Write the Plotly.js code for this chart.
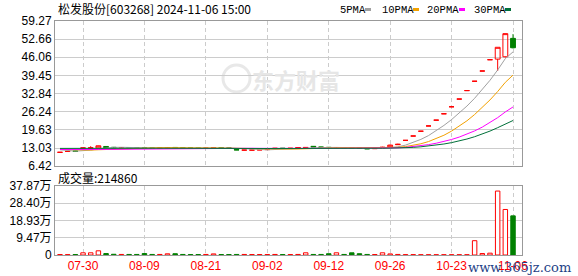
<!DOCTYPE html>
<html><head><meta charset="utf-8">
<script src="https://cdn.plot.ly/plotly-3.0.1.min.js"></script>
<style>html,body{margin:0;padding:0;background:#fff;}#chart{width:578px;height:276px;}</style>
</head><body><div id="chart"></div>
<script>
// ---- data ----
const xTickIdx  = [3, 11, 19, 27, 35, 43, 51, 59];
const xTickText = ['07-30','08-09','08-21','09-02','09-12','09-26','10-23','11-06'];

const priceTicks = [6.42, 13.03, 19.63, 26.24, 32.84, 39.45, 46.06, 52.66, 59.27];
const volTicks = [0, 94700, 189300, 284000, 378700];
const volTickText = ['0', '9.47万', '18.93万', '28.40万', '37.87万'];

const openP = [11.46,11.80,11.92,12.95,13.00,13.05,13.60,13.30,13.15,13.20,
  13.10,13.10,13.00,12.95,13.05,13.25,13.10,13.05,13.00,12.95,
  13.00,13.15,13.05,12.45,12.28,12.28,12.35,12.45,12.85,12.95,
  12.90,13.10,13.15,13.65,13.40,13.30,13.10,13.20,13.15,13.10,
  12.95,12.80,13.10,13.45,14.25,15.83,17.41,19.15,21.07,23.18,
  25.50,28.05,30.86,33.94,37.34,41.07,45.18,45.40,46.25,52.95];
const highP = [11.52,11.86,11.95,13.07,13.70,13.90,13.75,13.35,13.25,13.22,
  13.12,13.45,13.05,13.05,13.35,13.30,13.15,13.08,13.02,13.05,
  13.30,13.18,13.08,12.50,12.32,12.35,12.45,12.60,13.00,12.98,
  13.00,13.25,13.30,13.70,13.45,13.32,13.30,13.22,13.20,13.12,
  13.00,12.90,13.50,14.30,14.60,15.83,17.41,19.15,21.07,23.18,
  25.50,28.05,30.86,33.94,37.34,41.07,45.18,49.70,54.67,54.50];
const lowP = [11.44,11.78,11.85,12.90,12.95,13.00,13.20,13.10,13.10,13.05,
  13.00,12.95,12.90,12.92,13.00,13.05,13.00,12.95,12.90,12.92,
  12.98,13.00,12.95,12.30,12.25,12.25,12.30,12.40,12.80,12.85,
  12.88,13.05,13.10,13.40,13.25,13.05,13.05,13.05,13.00,12.95,
  12.70,12.75,13.05,13.40,14.15,15.83,17.41,19.15,21.07,23.18,
  25.50,28.05,30.86,33.94,37.34,41.07,45.18,41.07,46.00,49.30];
const closeP = [11.48,11.83,11.88,13.07,13.10,13.85,13.25,13.15,13.20,13.10,
  13.05,13.00,12.95,13.00,13.20,13.10,13.05,13.00,12.95,13.00,
  13.15,13.05,13.00,12.35,12.30,12.30,12.40,12.55,12.95,12.90,
  12.95,13.20,13.25,13.45,13.30,13.10,13.20,13.10,13.05,13.00,
  12.75,12.85,13.30,14.10,14.39,15.83,17.41,19.15,21.07,23.18,
  25.50,28.05,30.86,33.94,37.34,41.07,45.18,49.70,54.67,49.53];

const volume = [2500,2000,2500,12000,12000,23000,8000,4000,3000,3000,
  3000,8000,3000,3000,6500,7000,3000,2500,2500,3000,
  6000,2500,2500,3000,3000,2500,2500,2500,3000,2500,
  2500,3000,12000,3000,3000,7000,12000,3000,12000,7000,
  3000,2500,12000,6000,3000,2000,2000,1500,1500,1500,
  1500,1500,1500,1500,78500,8000,10000,351000,249900,214860];

const ma5 = [12.40,12.20,11.90,12.08,12.27,12.75,13.03,13.28,13.31,13.31,
  13.15,13.10,13.06,13.02,13.04,13.05,13.06,13.07,13.06,13.02,
  13.03,13.03,13.03,12.91,12.77,12.60,12.47,12.38,12.50,12.62,
  12.75,12.91,13.05,13.15,13.23,13.26,13.26,13.23,13.15,13.09,
  13.02,12.95,12.99,13.20,13.48,14.09,15.01,16.18,17.57,19.33,
  21.26,23.39,25.73,28.31,31.14,34.25,37.68,41.45,45.59,48.03];
const ma10 = [12.55,12.45,12.30,12.25,12.28,12.40,12.52,12.62,12.72,12.79,
  12.95,13.07,13.17,13.17,13.18,13.10,13.08,13.07,13.04,13.03,
  13.04,13.05,13.05,12.99,12.90,12.82,12.75,12.71,12.71,12.70,
  12.68,12.69,12.72,12.83,12.93,13.01,13.09,13.14,13.15,13.16,
  13.14,13.11,13.11,13.18,13.28,13.56,13.98,14.58,15.39,16.40,
  17.68,19.20,20.95,22.94,25.23,27.76,30.53,33.59,36.95,39.58];
const ma20 = [12.50,12.45,12.40,12.42,12.45,12.50,12.53,12.56,12.60,12.63,
  12.67,12.70,12.74,12.77,12.80,12.83,12.86,12.88,12.87,12.91,
  12.99,13.06,13.11,13.08,13.04,12.96,12.92,12.89,12.87,12.86,
  12.86,12.87,12.88,12.91,12.91,12.91,12.92,12.92,12.93,12.93,
  12.91,12.90,12.91,13.00,13.10,13.28,13.53,13.86,14.27,14.78,
  15.41,16.15,17.03,18.06,19.26,20.66,22.26,24.09,26.17,27.99];
const ma30 = [12.90,12.88,12.86,12.86,12.87,12.88,12.90,12.91,12.92,12.93,
  12.94,12.95,12.96,12.97,12.98,12.98,12.99,13.00,13.00,13.00,
  13.00,12.99,12.98,12.95,12.93,12.90,12.88,12.86,12.85,12.84,
  12.89,12.93,12.98,12.99,13.00,12.97,12.97,12.97,12.97,12.96,
  12.95,12.95,12.96,13.00,13.03,13.13,13.27,13.48,13.75,14.09,
  14.50,15.00,15.59,16.31,17.15,18.11,19.20,20.44,21.83,23.05];

const titleText = '松发股份[603268] 2024-11-06 15:00';
const volLabel = '成交量:214860';
const maNames = ['5PMA', '10PMA', '20PMA', '30PMA'];

// ---- styling ----
const RED = '#ff0000', GREEN = '#008000';
const maColors = ['#a0a0a0', '#f2a100', '#ff00ff', '#00703a'];
const idx = closeP.map((_, i) => i);

const L = 55, R = 522, T = 21, B = 255;
const px = x => (x - L) / (R - L);
const py = y => (B - y) / (B - T);

const up = closeP.map((c, i) => c > openP[i] || (c === openP[i] && (i === 0 || c >= closeP[i - 1])));

const traces = [];
traces.push({
  type: 'candlestick', x: idx, open: openP, high: highP, low: lowP, close: closeP,
  xaxis: 'x', yaxis: 'y', whiskerwidth: 0, hoverinfo: 'skip', showlegend: false,
  increasing: {line: {color: RED, width: 1}, fillcolor: 'rgba(255,255,255,0)'},
  decreasing: {line: {color: GREEN, width: 1}, fillcolor: GREEN}
});
[ma5, ma10, ma20, ma30].forEach((m, k) => traces.push({
  type: 'scatter', mode: 'lines', x: idx, y: m, xaxis: 'x', yaxis: 'y',
  line: {color: maColors[k], width: 1}, hoverinfo: 'skip', showlegend: false, name: maNames[k]
}));
traces.push({
  type: 'bar', x: idx, y: volume, xaxis: 'x2', yaxis: 'y2', width: 0.58,
  marker: {color: up.map(u => u ? '#ffffff' : GREEN), line: {color: up.map(u => u ? RED : GREEN), width: 1}},
  hoverinfo: 'skip', showlegend: false
});

const gridCol = '#cccccc', lineCol = '#999999';
const xCommon = {
  type: 'linear', range: [-0.65, 60.17], tickmode: 'array', tickvals: xTickIdx, ticktext: xTickText,
  showgrid: true, gridcolor: gridCol, griddash: '4px,3px', gridwidth: 1, zeroline: false,
  showline: true, mirror: true, linecolor: lineCol, linewidth: 1, ticks: '', fixedrange: true
};
const tickFont = {family: 'Liberation Sans, Arial, Noto Sans CJK SC, sans-serif', size: 12, color: '#000'};

const annotations = [
  {text: titleText, x: px(56), y: py(9), xanchor: 'left', yanchor: 'middle',
   font: {family: 'Noto Sans CJK SC', size: 12, color: '#000'}},
  {text: volLabel, x: px(56), y: py(177), xanchor: 'left', yanchor: 'middle',
   font: {family: 'Noto Sans CJK SC', size: 12, color: '#000'}},
  {text: '东方财富', x: px(296), y: py(79), xanchor: 'center', yanchor: 'middle',
   font: {family: 'Noto Sans CJK SC', size: 22, color: '#e6e6e6', weight: 700}},
];
const legX = [338, 380, 425, 472];
const sqX = [365, 413, 459, 505];
maNames.forEach((n, k) => annotations.push({
  text: n, x: px(legX[k]), y: py(10), xanchor: 'left', yanchor: 'middle',
  font: {family: 'Liberation Mono, monospace', size: 10.5, color: '#000'}
}));
annotations.push({text: 'www.365jz.com', x: px(466), y: py(267), xanchor: 'left', yanchor: 'middle',
  font: {family: 'DejaVu Serif', size: 13, color: '#1e3f86'}});
annotations.forEach(a => { a.xref = 'paper'; a.yref = 'paper'; a.showarrow = false; });

const shapes = sqX.map((x0, k) => ({
  type: 'rect', xref: 'paper', yref: 'paper', x0: px(x0), x1: px(x0 + 6), y0: py(11), y1: py(8),
  fillcolor: maColors[k], line: {width: 0}
}));
shapes.push({type: 'circle', xref: 'paper', yref: 'paper', layer: 'below',
  x0: px(223), x1: px(250), y0: py(92), y1: py(65), fillcolor: 'rgba(0,0,0,0)', line: {color: '#e8e8e8', width: 3}});

const layout = {
  width: 578, height: 276, paper_bgcolor: '#fff', plot_bgcolor: '#fff',
  margin: {l: L, r: 578 - R, t: T, b: 276 - B, pad: 0},
  showlegend: false, boxgap: 0.1, boxgroupgap: 0.3, bargap: 0.4,
  xaxis: Object.assign({}, xCommon, {anchor: 'y', showticklabels: false, rangeslider: {visible: false}}),
  xaxis2: Object.assign({}, xCommon, {anchor: 'y2', matches: 'x', showticklabels: true,
    tickfont: {family: 'Liberation Sans, Arial, sans-serif', size: 12, color: RED}}),
  yaxis: {domain: [(B - 166.2) / (B - T), 1], range: [priceTicks[0], priceTicks[priceTicks.length - 1]],
    tickmode: 'array', tickvals: priceTicks, ticktext: priceTicks.map(v => v.toFixed(2)),
    showgrid: true, gridcolor: gridCol, zeroline: false, showline: true, mirror: true,
    linecolor: lineCol, ticks: '', tickfont: tickFont, fixedrange: true},
  yaxis2: {domain: [0, (B - 186) / (B - T)], range: [0, volTicks[volTicks.length - 1]],
    tickmode: 'array', tickvals: volTicks, ticktext: volTickText,
    showgrid: true, gridcolor: gridCol, zeroline: false, showline: true, mirror: true,
    linecolor: lineCol, ticks: '', tickfont: tickFont, fixedrange: true},
  annotations: annotations, shapes: shapes
};

Plotly.newPlot('chart', traces, layout, {displayModeBar: false, staticPlot: true});
</script></body></html>
